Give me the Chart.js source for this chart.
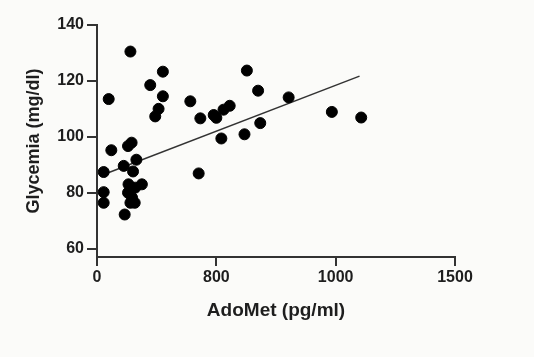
<!DOCTYPE html>
<html>
<head>
<meta charset="utf-8">
<script src="https://cdn.jsdelivr.net/npm/chart.js@4"></script>
<style>
  html, body { margin: 0; padding: 0; background: #fbfbf9; }
  #wrap { width: 534px; height: 357px; }
</style>
</head>
<body>
<div id="wrap"><canvas id="chart"></canvas></div>
<script>
// AdoMet (pg/ml) vs glycemia (mg/dl)
const adoMet = [140, 49, 60, 28, 112, 130, 145, 151, 165, 223, 276, 276, 258, 244,
  391, 433, 426, 489, 500, 521, 530, 556, 628, 618, 675, 684, 803, 984, 1107,
  28, 28, 132, 188, 160, 130, 147, 140, 158, 116];
const glycemia = [130.5, 113.5, 95.2, 87.4, 89.6, 96.7, 97.9, 87.6, 91.8, 118.5, 123.3, 114.5, 110, 107.3,
  112.7, 106.6, 86.9, 107.8, 106.8, 99.4, 109.7, 111.1, 123.7, 100.9, 116.5, 104.9, 114.1, 108.9, 106.9,
  80.2, 76.4, 83, 83, 81.8, 80, 78.2, 76.4, 76.4, 72.2];

// regression line end points
const fitX = [28, 1100];
const fitY = [86.5, 121.7];

const xTicks = [0, 500, 1000, 1500];
const xTickLabels = ['0', '800', '1000', '1500'];
const yTicks = [60, 80, 100, 120, 140];

const ink = '#1e1e1e';
const tickFont = { family: 'Liberation Sans, Arial, sans-serif', size: 16, weight: 'bold' };

const points = adoMet.map((x, i) => ({ x: x, y: glycemia[i] }));
const fitLine = fitX.map((x, i) => ({ x: x, y: fitY[i] }));

new Chart(document.getElementById('chart'), {
  type: 'scatter',
  data: {
    datasets: [
      {
        data: points,
        backgroundColor: '#000',
        borderColor: '#000',
        pointRadius: 5.5,
        pointHoverRadius: 5.5
      },
      {
        type: 'line',
        data: fitLine,
        borderColor: '#333',
        borderWidth: 1.5,
        pointRadius: 0,
        fill: false
      }
    ]
  },
  options: {
    responsive: true,
    maintainAspectRatio: false,
    animation: false,
    layout: { padding: { top: 25, right: 79, left: 0, bottom: 0 } },
    plugins: { legend: { display: false }, tooltip: { enabled: false } },
    scales: {
      x: {
        type: 'linear',
        min: 0, max: 1500,
        afterBuildTicks: s => { s.ticks = xTicks.map(v => ({ value: v })); },
        afterFit: s => { s.height = 100; },
        ticks: {
          color: ink, font: tickFont, padding: 2, maxRotation: 0,
          callback: v => xTickLabels[xTicks.indexOf(v)]
        },
        grid: { drawOnChartArea: false, drawTicks: true, tickLength: 9, color: '#333', lineWidth: 2 },
        border: { display: true, color: '#333', width: 2 },
        title: {
          display: true, text: 'AdoMet (pg/ml)', color: ink,
          font: { family: 'Liberation Sans, Arial, sans-serif', size: 19, weight: 'bold' },
          padding: { top: 0, bottom: 35 }
        }
      },
      y: {
        min: 57, max: 140,
        afterBuildTicks: s => { s.ticks = yTicks.map(v => ({ value: v })); },
        afterFit: s => { s.width = 97; },
        ticks: { color: ink, font: tickFont, padding: 3 },
        grid: { drawOnChartArea: false, drawTicks: true, tickLength: 10, color: '#333', lineWidth: 2 },
        border: { display: true, color: '#333', width: 2 },
        title: {
          display: true, text: 'Glycemia (mg/dl)', color: ink,
          font: { family: 'Liberation Sans, Arial, sans-serif', size: 18, weight: 'bold' },
          padding: { top: 23, bottom: 0 }
        }
      }
    }
  }
});
</script>
</body>
</html>
